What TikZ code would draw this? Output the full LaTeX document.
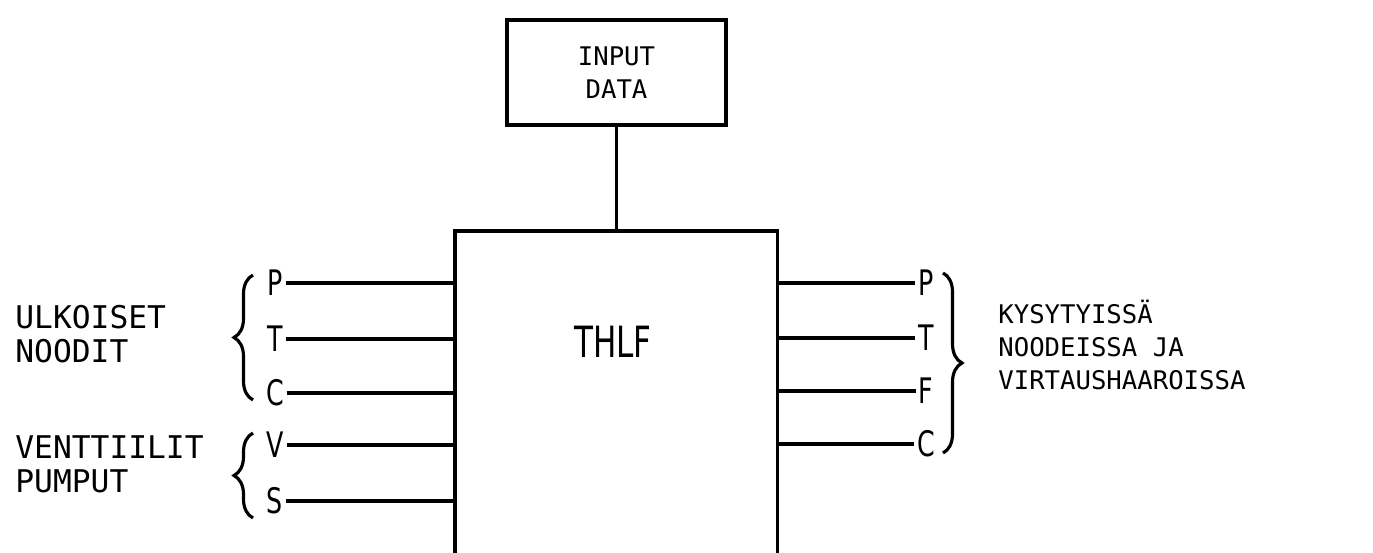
\documentclass[tikz,border=0pt]{standalone}
\usepackage{fontspec}
\usepackage{tikz}
\usetikzlibrary{positioning, decorations.pathreplacing}
\newfontfamily\typefont{DejaVu Sans Mono}
\newfontfamily\pinfamily[FakeStretch=0.72]{DejaVu Sans}
\newcommand{\leftfont}{\typefont\fontsize{17.8}{19.4}\selectfont}
\newcommand{\rightfont}{\typefont\fontsize{14.6}{18.8}\selectfont}
\newcommand{\pinfont}{\pinfamily\fontsize{20}{22}\selectfont}
\newcommand{\titlefont}{\pinfamily\fontsize{24.5}{26}\selectfont}

\begin{document}
\begin{tikzpicture}[
    wire/.style={line width=2.1pt},
    block/.style={draw, line width=2.1pt, inner sep=0pt},
    pin/.style={inner sep=1.5pt, font=\pinfont},
    caption/.style={inner sep=0pt, align=left, anchor=west},
    bracket/.style={line width=1.8pt, decorate, decoration={brace, amplitude=0.38cm}}
]
    \useasboundingbox (0,0) rectangle (27.46,-11.06);

    % blocks
    \node[block, minimum width=4.38cm, minimum height=2.1cm, font=\rightfont, align=center]
        (input) at (12.33,-1.45) {INPUT\\DATA};
    \node[inner sep=0pt, minimum width=6.44cm, minimum height=6.44cm, anchor=north]
        (thlf) at (12.32,-4.62) {};
    \draw[wire] (thlf.south west) |- (thlf.north east) -- (thlf.south east);
    \node[font=\titlefont] (thlfname) at (12.26,-6.84) {THLF};
    \draw[wire] (input.south) -- (input.south |- thlf.north);

    % inputs on the left
    \node[pin] (pl) at (5.5,-5.66) {P};
    \node[pin] (tl) at (5.5,-6.78) {T};
    \node[pin] (cl) at (5.5,-7.86) {C};
    \node[pin] (vl) at (5.5,-8.90) {V};
    \node[pin] (sl) at (5.5,-10.02) {S};
    \foreach \p in {pl, tl, cl, vl, sl}
        \draw[wire] (\p.east) -- (\p.east -| thlf.west);

    \draw[bracket] (5.06,-8.0) -- (5.06,-5.5);
    \draw[bracket] (5.06,-10.36) -- (5.06,-8.66);

    \node[caption, font=\leftfont] (ulkoiset) at (0.3,-6.68) {ULKOISET\\NOODIT};
    \node[caption, font=\leftfont] (venttiilit) at (0.3,-9.28) {VENTTIILIT\\PUMPUT};

    % outputs on the right
    \node[pin] (pr) at (18.52,-5.66) {P};
    \node[pin] (tr) at (18.52,-6.76) {T};
    \node[pin] (fr) at (18.52,-7.82) {F};
    \node[pin] (cr) at (18.52,-8.88) {C};
    \foreach \p in {pr, tr, fr, cr}
        \draw[wire] (\p.west -| thlf.east) -- (\p.west);

    \draw[bracket] (18.86,-5.46) -- (18.86,-9.06);

    \node[caption, font=\rightfont] (kysytyissa) at (19.96,-6.9)
        {KYSYTYISSÄ\\NOODEISSA JA\\VIRTAUSHAAROISSA};
\end{tikzpicture}
\end{document}
